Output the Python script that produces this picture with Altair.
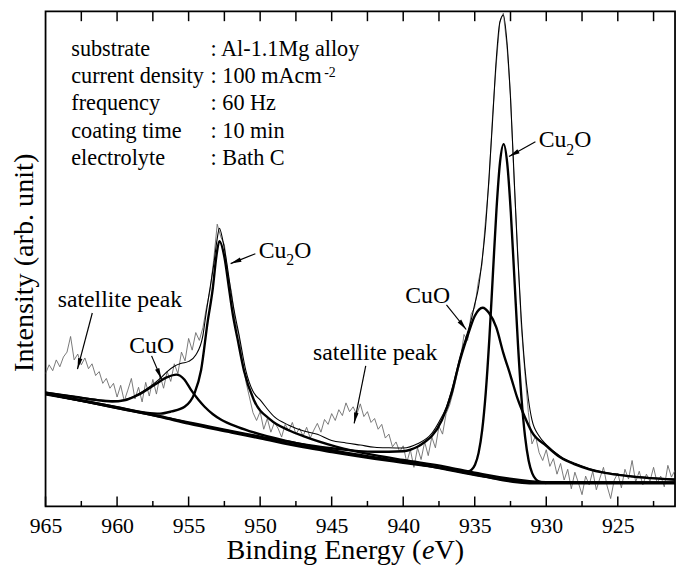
import math
import altair as alt
import pandas as pd

# ---------------- data (binding energy in eV, intensity in arb. units) ----------------
major_ticks = [965, 960, 955, 950, 945, 940, 935, 930, 925]
minor_ticks = [962.5, 957.5, 952.5, 947.5, 942.5, 937.5, 932.5, 927.5, 922.5]
top_ticks = [962.5, 960, 957.5, 955, 952.5, 950, 947.5, 945, 942.5, 940, 937.5, 935,
             932.5, 930, 927.5, 925, 922.5]

# Shirley-type background
bg_E = [965, 962, 960, 957, 955, 952, 950, 947, 945, 942, 940, 938, 936, 935, 934, 933, 932, 931, 930, 921]
bg_I = [115, 107, 101, 92, 85, 76, 70, 61, 56, 49, 45, 41, 36, 33, 30, 27, 25, 24, 24, 24]

# CuO 2p1/2 component (+ background)
cuo1_E = [965, 962, 960.35, 959.5, 958.5, 957.35, 956.5, 955.86, 955.3, 954.82, 954.3, 953.9,
          953.3, 952.75, 951.5, 950.44, 948, 945, 940, 930, 921]
cuo1_I = [116.5, 110, 107.3, 108.5, 114.5, 124.8, 132.3, 135, 130, 119, 108.9, 102.3,
          94.4, 89, 81, 75.7, 66.5, 57.5, 45.8, 24.3, 24.2]

# Cu2O 2p1/2 component (+ background)
cu2o1_E = [965, 960, 958, 957, 956.2, 955.28, 954.59, 954.13, 953.67, 953.32, 953.05, 952.85,
           952.5, 952.17, 951.9, 951.59, 951.13, 950.44, 949.29, 948, 946.98, 944.7, 942, 940,
           937, 935, 930, 921]
cu2o1_I = [115.2, 101.5, 96, 95, 97.2, 102, 115.8, 139.4, 189, 222, 257.2, 271.6,
           255.5, 222.5, 195.7, 172.3, 139, 109, 88.9, 78, 72, 61.3, 52.5, 47.5,
           40.5, 34.5, 24.8, 24.5]

# CuO 2p3/2 component (+ background)
cuo3_E = [965, 955, 950, 945, 942, 941, 940, 939.5, 939, 938.5, 938, 937.3, 936.6, 936.2,
          935.5, 935, 934.45, 934, 933.5, 933, 932.5, 932, 931.5, 931, 930, 929, 928, 927,
          926, 924, 921]
cuo3_I = [115.5, 86, 71.5, 59.5, 56, 56, 56.5, 58, 61, 66, 72, 88.3, 116.5, 140.5,
          174.5, 195, 203.4, 198, 183.5, 157, 134, 110, 91.5, 76, 62, 50, 43, 38,
          34.5, 30.5, 27.3]

# Cu2O 2p3/2 component (+ background)
cu2o3_E = [936, 935.5, 935.23, 934.98, 934.73, 934.48, 934.23, 933.98, 933.73, 933.48, 933.23,
           932.98, 932.73, 932.48, 932.23, 931.98, 931.73, 931.48, 931.23, 930.98, 930.73,
           930.48, 930]
cu2o3_I = [36, 35.7, 37.5, 42.7, 54.8, 78, 116.5, 171.3, 237.8, 303.9, 352.7,
           371, 351.5, 301.5, 234.1, 166.4, 110.5, 71.1, 46.8, 33.8, 27.8,
           25.3, 24]

# fitted envelope
env_E = [965, 963, 961, 960, 959, 958, 957, 956.5, 956, 955.5, 955, 954.5, 954, 953.75, 953.5,
         953.25, 953, 952.85, 952.6, 952.35, 952, 951.75, 951.5, 951, 950.5, 950, 949, 948, 947,
         946, 945, 944, 943, 942, 941, 940, 939, 938, 937.5, 937, 936.5, 936, 935.5, 935.25,
         935, 934.75, 934.5, 934.25, 934, 933.75, 933.5, 933.25, 933, 932.75, 932.5, 932.25,
         932, 931.75, 931.5, 931.25, 931, 930.5, 930, 929, 928, 927, 926, 925, 924, 922, 921]
env_I = [117, 113, 109, 108.3, 111.5, 119.7, 130.8, 138, 143.5, 146.5, 148.5, 155, 175.2, 200.5,
         223.8, 247, 274.3, 284.9, 271.7, 251, 215.9, 195.3, 177.5, 139.1, 117.8, 109, 91.6,
         83.2, 77.5, 73.8, 67.5, 65, 62.8, 60.6, 60, 59.8, 64.1, 74.9, 86.5, 101.2, 125.2,
         154.8, 178.4, 190.9, 207.1, 223.3, 250.5, 285.2, 337.4, 396, 456.8, 495.5, 503.2,
         475.7, 418.2, 338, 258, 192.7, 143, 110, 88.5, 72, 63.3, 51.2, 44.1, 38.9, 35.3, 33,
         31.2, 28.8, 27.9]

# measured spectrum, 0.25 eV steps from 965 eV down to 921 eV
raw_I = [
    # 965.00 - 960.00
    136, 145, 139, 150, 143, 153, 158, 174, 150, 156, 145, 152, 141, 146, 134, 138, 126, 131,
    121, 126, 112,
    # 959.75 - 956.25
    124, 108, 119, 131, 110, 122, 107, 127, 113, 130, 115, 134, 121, 138, 128,
    # 956.00 - 954.25
    146, 136, 158, 149, 172, 160, 178, 170,
    # 954.00 - 951.50
    183, 204, 221, 252, 289, 276, 268, 238, 219, 190, 176,
    # 951.25 - 947.50
    150, 128, 112, 96, 88, 97, 79, 90, 76, 86, 80, 71, 84, 77, 86, 74,
    # 947.25 - 940.50  (satellite)
    80, 72, 81, 70, 78, 85, 76, 89, 84, 95, 88, 99, 93, 106, 97, 102, 94, 105, 92, 97, 86,
    90, 79, 84, 70, 74, 61, 66,
    # 940.25 - 936.25
    56, 62, 45, 58, 40, 60, 48, 66, 52, 71, 60, 82, 74, 95, 104, 118, 134,
    # 936.00 - 930.75
    150, 176, 170, 197, 204, 230, 247, 292, 333, 401, 452, 496, 505, 472, 421, 334, 262, 186,
    138, 96, 64, 72,
    # 930.50 - 921.00
    55, 47, 58, 41, 49, 33, 44, 27, 38, 18, 35, 24, 12, 31, 22, 36, 17, 29, 40, 21, 8, 27, 34,
    19, 38, 28, 47, 25, 36, 22, 33, 26, 40, 24, 31, 20, 42, 30, 37,
]
raw_E = [round(965 - 0.25 * i, 2) for i in range(len(raw_I))]

info_keys = ["substrate", "current density", "frequency", "coating time", "electrolyte"]
info_vals = [": Al-1.1Mg alloy", ": 100 mAcm", ": 60 Hz", ": 10 min", ": Bath C"]
x_title = ["Binding Energy (", "e", "V)"]
y_title = "Intensity (arb. unit)"

# ---------------- chart ----------------
W, H = 637, 501
FONT = "Liberation Serif"
xscale = alt.Scale(domain=[965, 921], nice=False, zero=False)
yscale = alt.Scale(domain=[0, 507], nice=False, zero=False)
xaxis = alt.Axis(values=major_ticks, format="d", ticks=False, tickSize=0, domain=False,
                 grid=False, labelFont=FONT, labelFontSize=22, labelColor="black",
                 labelPadding=9, labelFlush=False, title=None)
X = alt.X("E:Q", scale=xscale, axis=xaxis)
Y = alt.Y("I:Q", scale=yscale, axis=None)
ORD = alt.Order("E:Q", sort="descending")


def curve(E, I, width, color="black", interp="monotone"):
    df = pd.DataFrame({"E": E, "I": I})
    return alt.Chart(df).mark_line(color=color, strokeWidth=width, interpolate=interp,
                                   clip=True, strokeJoin="round").encode(x=X, y=Y, order=ORD)


def ticks(vals, y0, y1):
    return alt.Chart(pd.DataFrame({"E": vals})).mark_rule(color="black", strokeWidth=1.5).encode(
        x=X, y=alt.value(y0), y2=alt.value(y1))


one = pd.DataFrame({"n": [0]})


def label(txt, x, y, size=24, style="normal", **kw):
    return alt.Chart(one).mark_text(text=txt, font=FONT, fontSize=size, fontStyle=style,
                                    align="left", baseline="alphabetic", color="black",
                                    **kw).encode(x=alt.value(x), y=alt.value(y))


def arrow(x0, y0, x1, y1):
    ang = math.degrees(math.atan2(x1 - x0, -(y1 - y0))) % 360
    line = alt.Chart(one).mark_rule(color="black", strokeWidth=1.2).encode(
        x=alt.value(x0), y=alt.value(y0), x2=alt.value(x1), y2=alt.value(y1))
    head = alt.Chart(one).mark_point(shape="M0,0L0.42,2L-0.42,2Z", size=121, filled=True,
                                     color="black", opacity=1, angle=ang, strokeWidth=0).encode(
        x=alt.value(x1), y=alt.value(y1))
    return [line, head]


layers = [
    curve(raw_E, raw_I, 0.9, color="#6a6a6a", interp="linear"),
    curve(env_E, env_I, 1.1),
    curve(cuo1_E, cuo1_I, 2.4),
    curve(cu2o1_E, cu2o1_I, 2.4),
    curve(cuo3_E, cuo3_I, 2.4),
    curve(cu2o3_E, cu2o3_I, 2.4),
    curve(bg_E, bg_I, 3.0),
    ticks(major_ticks, H, H - 10),
    ticks(minor_ticks, H, H - 5.5),
    ticks(top_ticks, 0, 10),
    # info box
    label("\n".join(info_keys), 26, 45.3, size=22.5, lineBreak="\n", lineHeight=27.5),
    label("\n".join(info_vals), 167, 45.3, size=22.5, lineBreak="\n", lineHeight=27.5),
    label("-2", 282, 66, size=14),
    # annotations
    label("Cu", 499, 137), label("2", 527, 145, size=16), label("O", 535, 137),
    label("Cu", 215.7, 249.3), label("2", 243.7, 257, size=16), label("O", 251.7, 249.3),
    label("CuO", 84.7, 345.3),
    label("satellite peak", 12.3, 299.3),
    label("CuO", 364, 295.3),
    label("satellite peak", 270.7, 352.7),
    # axis titles
    label(x_title[0], 183, 554, size=28.5),
    label(x_title[1], 380.9, 554, size=28.5, style="italic"),
    label(x_title[2], 393.6, 554, size=28.5),
    alt.Chart(one).mark_text(text=y_title, font=FONT, fontSize=28.5, angle=270, align="center",
                             baseline="alphabetic", color="black").encode(
        x=alt.value(-13), y=alt.value(254.5)),
]
layers += arrow(495.7, 132, 469, 147)
layers += arrow(212.3, 245.3, 187.3, 255.3)
layers += arrow(107.3, 348.7, 117.3, 372)
layers += arrow(47.3, 305.3, 32.3, 362)
layers += arrow(405.7, 297, 425.7, 322)
layers += arrow(324, 358.7, 312.3, 417)

chart = alt.layer(*layers).properties(
    width=W, height=H,
    padding={"left": 38, "top": 0, "right": 2, "bottom": 59},
    autosize=alt.AutoSizeParams(type="none"),
    background="white",
).configure_view(stroke="black", strokeWidth=1.8)

chart.save("out.html", embed_options={"renderer": "svg", "actions": False})
